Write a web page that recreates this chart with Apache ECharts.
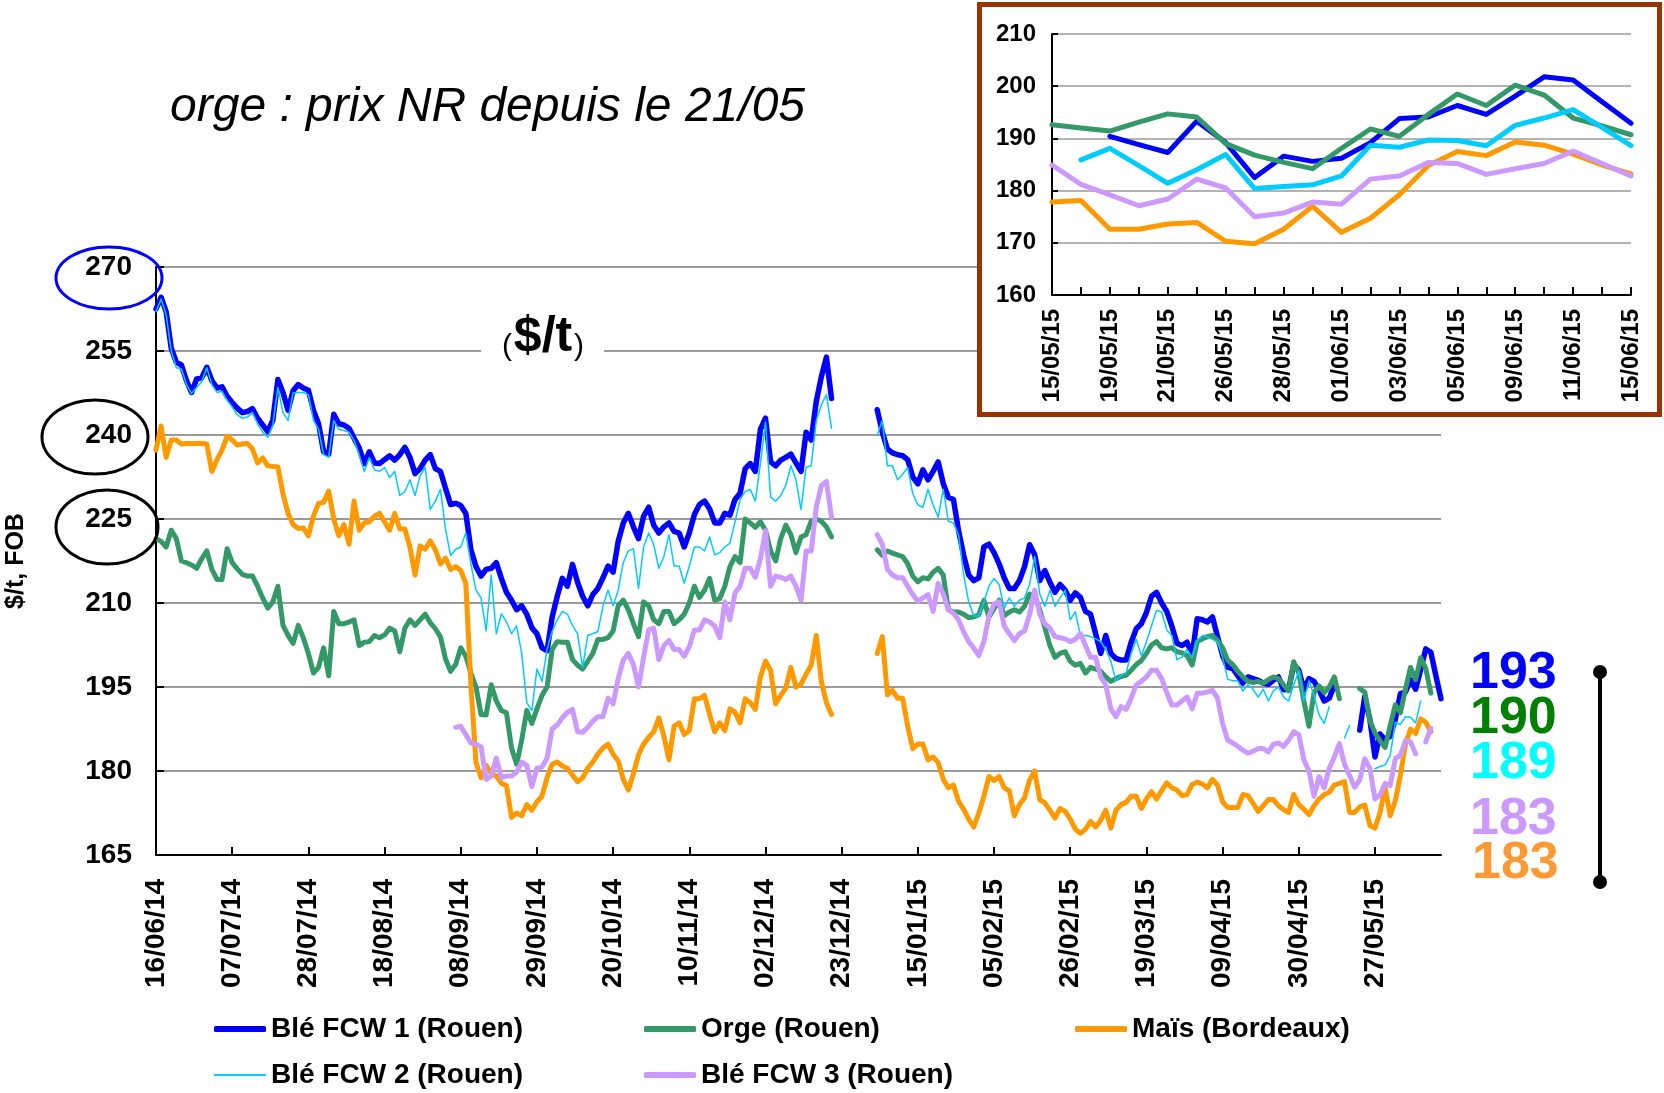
<!DOCTYPE html>
<html><head><meta charset="utf-8">
<script src="https://cdn.jsdelivr.net/npm/echarts@6/dist/echarts.min.js"></script>
<style>
html,body{margin:0;padding:0;background:#fff;}
#main{position:absolute;left:0;top:0;width:1664px;height:1093px;}
#inset{position:absolute;left:977px;top:2px;width:685px;height:415px;box-sizing:border-box;border:5px solid #993300;background:#fff;}
</style></head><body>
<div id="main"></div><div id="inset"></div>
<script>
// ---- main chart data (one value per trading day from 16/06/14) ----
const tickLabels = ['16/06/14','07/07/14','28/07/14','18/08/14','08/09/14','29/09/14','20/10/14','10/11/14','02/12/14','23/12/14','15/01/15','05/02/15','26/02/15','19/03/15','09/04/15','30/04/15','27/05/15'];

const ble1 = [
262.5,264.6,262.0,255.5,253.0,252.5,249.7,247.6,250.0,250.2,
252.1,249.7,248.4,248.6,246.9,245.8,244.8,244.0,244.2,244.7,
243.0,241.8,240.6,242.6,249.9,247.6,244.4,247.9,249.0,248.4,
248.0,244.4,242.0,237.0,236.6,243.7,242.0,241.8,241.2,239.4,
237.7,234.9,237.0,235.0,234.9,235.6,236.3,235.5,236.5,237.8,
236.0,233.1,234.0,235.5,236.5,234.0,233.5,230.5,227.6,227.8,
227.4,226.0,219.5,216.5,214.8,216.0,216.2,217.2,214.4,211.9,
210.5,208.8,209.5,208.0,205.6,204.5,202.0,201.5,207.5,211.2,
214.4,213.0,216.9,213.7,211.2,209.5,211.5,212.6,214.5,216.6,
215.5,221.0,224.3,226.0,223.6,221.5,225.5,227.1,223.9,222.5,
223.6,224.3,222.8,222.5,220.0,222.5,225.8,227.6,228.2,226.8,
224.3,224.3,226.0,225.7,228.5,229.6,234.0,234.9,233.5,241.0,
243.0,235.2,234.5,235.5,236.0,236.6,235.0,233.5,240.5,239.1,
246.0,250.4,253.9,246.5,null,null,null,null,null,null,
null,null,244.5,240.5,237.5,236.8,236.5,236.3,235.6,232.5,
231.3,233.8,232.0,233.5,235.2,231.3,228.9,228.5,223.0,218.6,
215.0,214.0,214.5,220.0,220.5,219.0,217.0,214.5,212.6,212.6,
214.0,216.5,220.4,218.6,214.0,215.8,213.7,211.9,213.3,212.3,
210.5,211.8,211.0,208.5,208.0,204.5,201.0,204.2,201.0,200.1,
199.8,199.8,203.0,205.4,206.3,208.3,211.2,211.9,210.0,208.5,
205.9,202.8,202.4,203.0,200.8,207.2,207.0,206.6,207.5,204.0,
200.6,198.5,198.3,197.0,195.7,196.8,196.5,196.2,195.7,195.5,
196.2,196.8,194.5,194.6,199.0,198.0,194.5,196.5,196.0,194.5,
192.5,193.0,195.4,null,null,null,null,187.3,193.3,189.2,
182.5,186.6,185.6,186.2,189.2,193.8,194.1,196.3,194.6,198.1,
201.8,201.2,197.0,192.9];

const orge = [
221.5,221.0,220.0,223.0,221.5,217.5,217.2,216.8,216.2,217.9,
219.3,216.0,214.2,214.2,219.7,217.2,216.1,215.1,214.8,214.8,
213.0,210.9,209.1,210.2,213.0,206.0,204.2,202.8,206.0,203.8,
201.0,197.5,198.5,202.0,197.0,208.5,206.3,206.3,206.6,207.0,
202.4,203.0,203.1,204.2,203.8,204.3,205.5,205.0,201.3,205.5,
207.0,206.0,207.0,208.0,206.5,205.4,204.0,200.0,197.8,199.0,
202.0,200.5,197.5,195.0,190.1,190.0,195.4,192.5,190.8,190.4,
184.1,181.2,185.5,190.8,188.5,191.1,193.5,195.0,201.7,203.1,
203.0,203.0,199.9,198.9,198.2,199.6,201.0,203.5,203.5,203.8,
205.0,209.5,210.5,208.8,206.3,204.0,210.2,209.5,207.0,206.3,
208.5,208.5,206.3,207.0,208.0,210.0,213.0,211.0,212.3,214.4,
210.5,210.8,213.0,216.5,218.3,217.2,225.0,224.3,223.5,224.5,
223.0,219.3,217.5,221.5,223.9,222.2,219.0,221.8,222.2,224.6,
225.0,224.6,223.6,221.8,null,null,null,null,null,null,
null,null,219.5,218.5,219.3,218.9,218.6,218.3,217.0,214.8,
213.8,214.5,214.3,215.5,216.2,215.0,208.8,208.4,208.4,208.0,
207.4,207.5,207.9,210.5,207.5,209.0,210.5,207.7,208.4,208.8,
208.4,209.4,211.6,211.2,208.8,205.6,202.4,200.3,201.0,201.3,
199.6,198.9,199.2,197.5,198.5,198.2,197.8,196.8,196.0,196.5,
196.9,197.1,198.0,199.0,199.7,201.0,202.5,203.1,202.0,201.8,
202.0,201.3,201.1,200.6,198.9,203.1,203.6,204.0,204.2,203.3,
202.0,199.8,199.0,197.8,196.8,196.0,195.8,196.0,195.7,196.3,
196.8,196.5,195.4,194.3,199.5,197.5,192.5,188.0,194.0,195.2,
194.0,195.0,196.8,192.9,null,null,null,194.7,194.1,189.0,
186.8,185.4,184.2,188.1,191.8,190.4,194.6,198.5,196.3,200.2,
198.3,193.9,null,null];

const mais = [
237.3,241.6,236.0,239.1,239.1,238.4,238.5,238.5,238.5,238.5,
238.4,233.5,235.6,237.3,239.8,239.1,238.2,238.4,238.5,237.5,
235.0,235.9,234.5,234.4,234.3,229.5,226.0,224.0,223.3,223.4,
222.0,225.5,227.8,228.0,230.0,225.0,222.0,224.0,220.5,228.2,
223.0,224.3,224.5,225.5,226.0,224.5,223.0,226.0,223.2,223.2,
220.0,215.0,220.2,219.6,221.1,219.5,217.0,218.0,216.0,216.5,
215.8,213.5,195.4,181.5,178.8,181.0,179.5,179.1,177.8,177.4,
171.7,172.5,172.0,174.0,173.0,174.5,175.5,178.8,181.2,181.6,
180.9,180.5,179.3,178.1,178.8,180.5,181.6,183.0,184.1,184.8,
183.0,181.8,178.5,176.6,179.5,182.9,184.8,186.0,187.0,189.5,
186.2,182.0,188.0,188.6,186.5,187.2,192.9,192.9,193.5,190.1,
187.0,188.6,187.2,191.1,190.5,188.6,192.9,192.2,191.0,196.8,
199.6,198.0,192.0,193.5,194.8,198.5,195.0,195.5,197.3,198.9,
204.2,196.0,192.2,190.1,null,null,null,null,null,null,
null,null,201.0,204.0,193.6,194.4,193.0,193.0,188.0,184.0,
184.8,184.8,182.0,182.5,181.5,178.5,177.0,177.5,174.6,173.2,
171.4,170.0,172.5,175.5,179.0,178.3,179.0,177.0,176.5,172.0,
174.0,175.2,178.4,180.0,174.9,174.3,173.0,171.6,173.3,172.8,
171.4,169.6,168.9,169.6,171.0,170.0,171.2,173.0,169.8,173.0,
174.0,174.4,175.5,175.5,173.3,175.0,176.3,175.0,176.5,177.9,
177.0,176.6,175.6,175.8,177.6,178.0,177.7,177.0,178.5,177.5,
174.5,173.5,173.5,173.5,175.8,175.6,174.2,172.8,173.8,174.9,
174.9,173.8,173.1,172.6,175.8,174.0,173.2,172.2,173.8,175.0,
175.8,176.2,177.5,177.8,178.1,172.6,172.6,173.6,173.9,170.3,
169.8,172.6,177.0,172.0,174.7,179.2,184.8,187.5,186.7,189.3,
188.7,187.0,null,null];

const ble2 = [
262.0,264.3,261.5,255.0,252.0,251.8,249.0,247.4,248.5,249.5,
252.0,249.0,247.6,247.8,246.2,245.0,243.6,243.0,243.2,244.0,
242.0,240.5,239.6,241.8,248.5,244.0,242.6,247.5,247.6,247.6,
247.2,242.6,241.0,236.5,236.0,242.6,241.0,240.8,240.5,239.0,
236.5,233.5,236.0,233.8,233.5,234.2,232.4,233.5,229.2,229.9,
232.0,229.2,232.7,234.2,226.7,228.2,230.3,223.2,218.5,219.6,
220.0,222.5,217.0,212.3,210.9,205.0,215.0,204.5,208.1,206.6,
204.5,205.9,201.0,192.2,190.8,198.2,196.0,201.7,204.9,207.0,
208.5,208.0,206.0,204.5,198.5,204.2,204.5,204.9,209.4,212.3,
209.5,212.3,217.2,219.3,219.7,212.6,220.0,222.5,220.4,216.2,
218.3,222.2,216.6,216.6,213.5,216.6,220.0,220.0,219.3,221.8,
218.6,219.0,220.0,220.7,224.5,228.5,229.9,230.3,228.2,234.9,
242.3,228.9,228.2,229.2,231.0,234.5,232.0,226.7,234.3,234.5,
242.6,245.4,247.2,241.2,null,null,null,null,null,null,
null,null,240.0,242.6,234.5,234.5,232.0,233.0,234.2,229.5,
227.5,227.1,230.3,227.5,225.3,230.3,224.6,224.3,222.2,215.1,
210.2,207.7,207.7,210.2,213.0,214.4,213.3,209.1,210.9,209.4,
210.5,210.9,213.3,218.3,211.6,209.4,212.3,209.4,210.9,212.3,
207.0,208.4,204.2,204.2,204.0,203.6,203.1,201.7,199.6,196.1,
197.1,197.5,201.0,203.5,200.6,203.1,205.9,208.7,208.4,205.2,
204.2,199.9,200.3,201.7,200.3,203.1,204.2,204.0,203.5,203.1,
200.3,196.4,196.1,196.1,194.3,195.4,194.6,193.2,194.6,192.5,
194.3,195.0,193.2,192.5,195.4,197.8,192.5,196.1,193.5,190.0,
188.5,191.5,null,null,185.9,188.1,null,null,null,null,
180.4,180.8,181.1,182.8,188.7,188.3,189.7,189.6,188.6,192.5,
null,null,null,null];

const ble3 = [
null,null,null,null,null,null,null,null,null,null,
null,null,null,null,null,null,null,null,null,null,
null,null,null,null,null,null,null,null,null,null,
null,null,null,null,null,null,null,null,null,null,
null,null,null,null,null,null,null,null,null,null,
null,null,null,null,null,null,null,null,null,187.8,
188.0,186.5,185.0,184.8,184.3,178.5,179.1,182.3,178.8,179.1,
179.1,179.8,181.6,181.0,177.2,180.5,180.7,182.3,187.5,188.2,
189.5,190.5,191.0,187.0,186.9,187.8,188.9,189.7,189.7,193.0,
192.0,196.5,199.8,201.0,199.0,195.0,200.3,205.2,205.5,199.9,
202.4,203.3,201.7,201.7,200.5,202.2,205.2,205.2,207.0,206.6,
205.9,203.8,210.2,207.0,211.8,213.0,216.2,216.2,214.6,217.9,
222.9,213.0,214.8,214.6,214.2,214.8,213.0,210.5,219.3,219.3,
227.1,231.0,231.7,225.3,null,null,null,null,null,null,
null,null,222.2,220.5,216.0,215.0,214.5,214.5,213.0,211.5,
210.3,210.9,211.5,208.5,213.5,211.6,208.8,208.2,207.0,204.9,
203.1,202.0,200.6,203.1,207.7,209.8,210.2,205.9,204.5,203.3,
204.5,205.0,208.0,212.3,208.0,206.3,205.5,204.0,203.8,203.6,
203.1,203.5,204.5,202.4,200.3,200.3,196.8,195.4,191.1,189.7,
191.5,191.0,193.0,195.4,196.0,196.8,198.0,198.0,196.5,194.0,
191.8,191.8,192.5,193.2,191.1,193.9,193.9,194.1,194.4,193.0,
188.5,185.5,185.0,184.4,183.7,183.2,183.5,184.0,184.0,183.4,
184.8,185.0,184.4,185.5,187.0,186.5,182.0,180.0,175.5,179.0,
177.0,180.5,182.5,184.9,181.2,179.2,177.1,178.4,182.2,180.5,
175.0,175.7,177.8,177.4,182.2,182.8,185.4,185.2,183.1,null,
185.2,187.6,null,null];

// ---- inset data (15/05/15 - 15/06/15) ----
const insetDates = ['15/05/15','18/05/15','19/05/15','20/05/15','21/05/15','22/05/15','26/05/15','27/05/15','28/05/15','29/05/15','01/06/15','02/06/15','03/06/15','04/06/15','05/06/15','08/06/15','09/06/15','10/06/15','11/06/15','12/06/15','15/06/15'];
const insetBle1 = [null,null,190.4,188.8,187.3,193.3,189.2,182.5,186.6,185.6,186.2,189.2,193.8,194.1,196.3,194.6,198.1,201.8,201.2,197.0,192.9];
const insetOrge = [192.6,192.0,191.4,193.1,194.7,194.1,189.0,186.8,185.4,184.2,188.1,191.8,190.4,194.6,198.5,196.3,200.2,198.3,193.9,192.4,190.7];
const insetMais = [177.8,178.1,172.6,172.6,173.6,173.9,170.3,169.8,172.6,177.0,172.0,174.7,179.2,184.8,187.5,186.7,189.3,188.7,187.0,184.9,183.2];
const insetBle2 = [null,185.9,188.1,184.8,181.4,184.0,186.9,180.4,180.8,181.1,182.8,188.7,188.3,189.7,189.6,188.6,192.5,193.9,195.5,192.1,188.6];
const insetBle3 = [184.9,181.2,179.2,177.1,178.4,182.2,180.5,175.0,175.7,177.8,177.4,182.2,182.8,185.4,185.2,183.1,184.2,185.2,187.6,185.2,182.8];

const lastLabels = ['193','190','189','183','183'];
const seriesNames = ['Blé FCW 1 (Rouen)','Orge (Rouen)','Maïs (Bordeaux)','Blé FCW 2 (Rouen)','Blé FCW 3 (Rouen)'];
const colors = ['#0000FF','#339966','#FF9900','#00CCFF','#CC99FF'];
const labelColors = ['#0000FF','#008000','#00FFFF','#CC99FF','#FF9933'];

const FONT = 'Liberation Sans, Arial, Helvetica, sans-serif';
const cats = ble1.map((_, i) => String(i));

function mk(name, data, color, width){
  return {name, type:'line', data, symbol:'none', showSymbol:false, connectNulls:false,
    lineStyle:{color, width, join:'round', cap:'round'}, itemStyle:{color}, emphasis:{disabled:true}};
}

const legendBase = {orient:'horizontal', itemWidth:52, icon:'roundRect', selectedMode:false,
  textStyle:{fontFamily:FONT, fontSize:28, fontWeight:'bold', color:'#000'}};

const main = echarts.init(document.getElementById('main'), null, {renderer:'canvas'});
main.setOption({
  animation:false,
  backgroundColor:'#fff',
  grid:{left:156, right:223, top:267, bottom:238, outerBoundsMode:'none'},
  legend:[
    Object.assign({}, legendBase, {data:[seriesNames[0]], left:209, top:1010, itemHeight:6}),
    Object.assign({}, legendBase, {data:[seriesNames[1]], left:639, top:1010, itemHeight:6}),
    Object.assign({}, legendBase, {data:[seriesNames[2]], left:1070, top:1010, itemHeight:6}),
    Object.assign({}, legendBase, {data:[seriesNames[3]], left:209, top:1056, itemHeight:2}),
    Object.assign({}, legendBase, {data:[seriesNames[4]], left:639, top:1056, itemHeight:6})
  ],
  xAxis:{type:'category', data:cats, boundaryGap:false,
    axisLine:{lineStyle:{color:'#000', width:2}},
    axisTick:{inside:true, interval:14, length:8, lineStyle:{color:'#000', width:2}},
    axisLabel:{interval:14, rotate:90, margin:24, fontFamily:FONT, fontSize:28, fontWeight:'bold', color:'#000',
      formatter:(v, i) => (i % 15 === 0 && tickLabels[i / 15]) ? tickLabels[i / 15] : ''},
    splitLine:{show:false}},
  yAxis:{type:'value', min:165, max:270, interval:15,
    name:'$/t, FOB', nameLocation:'middle', nameGap:127,
    nameTextStyle:{fontFamily:FONT, fontSize:25, fontWeight:'bold', color:'#000'},
    axisLine:{show:true, lineStyle:{color:'#000', width:2}},
    axisTick:{show:true, inside:true, length:8, lineStyle:{color:'#000', width:2}},
    axisLabel:{margin:24, fontFamily:FONT, fontSize:28, fontWeight:'bold', color:'#000'},
    splitLine:{show:true, lineStyle:{color:'#9a9a9a', width:2}}},
  series:[
    mk(seriesNames[0], ble1, colors[0], 5.5),
    mk(seriesNames[1], orge, colors[1], 5),
    mk(seriesNames[2], mais, colors[2], 5),
    mk(seriesNames[3], ble2, colors[3], 1.5),
    mk(seriesNames[4], ble3, colors[4], 5)
  ],
  graphic:[
    {type:'text', x:170, y:108, z:100, style:{text:'orge : prix NR depuis le 21/05', fill:'#000',
      font:'italic 48px ' + FONT, textAlign:'left', textVerticalAlign:'middle'}},
    {type:'rect', z:100, shape:{x:481, y:341, width:123, height:20}, style:{fill:'#fff'}},
    {type:'text', x:512, y:347, z:101, style:{text:'(', fill:'#000', font:'30px ' + FONT, textAlign:'right', textVerticalAlign:'middle'}},
    {type:'text', x:543, y:337, z:101, style:{text:'$/t', fill:'#000', font:'bold 50px ' + FONT, textAlign:'center', textVerticalAlign:'middle'}},
    {type:'text', x:574, y:347, z:101, style:{text:')', fill:'#000', font:'30px ' + FONT, textAlign:'left', textVerticalAlign:'middle'}},
    {type:'ellipse', z:100, shape:{cx:109, cy:278, rx:53, ry:31}, style:{fill:'none', stroke:'#0000FF', lineWidth:3}},
    {type:'ellipse', z:100, shape:{cx:95, cy:437, rx:53, ry:37}, style:{fill:'none', stroke:'#000', lineWidth:3}},
    {type:'ellipse', z:100, shape:{cx:107, cy:527, rx:51, ry:37}, style:{fill:'none', stroke:'#000', lineWidth:3}},
    {type:'text', x:1470, y:674, z:100, style:{text:lastLabels[0], fill:labelColors[0], font:'bold 52px ' + FONT, textVerticalAlign:'middle'}},
    {type:'text', x:1470, y:719, z:100, style:{text:lastLabels[1], fill:labelColors[1], font:'bold 52px ' + FONT, textVerticalAlign:'middle'}},
    {type:'text', x:1470, y:764, z:100, style:{text:lastLabels[2], fill:labelColors[2], font:'bold 52px ' + FONT, textVerticalAlign:'middle'}},
    {type:'text', x:1470, y:820, z:100, style:{text:lastLabels[3], fill:labelColors[3], font:'bold 52px ' + FONT, textVerticalAlign:'middle'}},
    {type:'text', x:1472, y:864, z:100, style:{text:lastLabels[4], fill:labelColors[4], font:'bold 52px ' + FONT, textVerticalAlign:'middle'}},
    {type:'line', z:100, shape:{x1:1600, y1:672, x2:1600, y2:882}, style:{stroke:'#000', lineWidth:4}},
    {type:'circle', z:100, shape:{cx:1600, cy:672, r:7}, style:{fill:'#000'}},
    {type:'circle', z:100, shape:{cx:1600, cy:882, r:7}, style:{fill:'#000'}}
  ]
});

const inset = echarts.init(document.getElementById('inset'), null, {renderer:'canvas'});
inset.setOption({
  animation:false,
  backgroundColor:'#fff',
  grid:{left:70, right:26, top:27, bottom:117, outerBoundsMode:'none'},
  xAxis:{type:'category', data:insetDates, boundaryGap:false,
    axisLine:{lineStyle:{color:'#000', width:2}},
    axisTick:{inside:true, interval:0, length:8, lineStyle:{color:'#000', width:2}},
    axisLabel:{interval:1, rotate:90, margin:14, fontFamily:FONT, fontSize:24, fontWeight:'bold', color:'#000'},
    splitLine:{show:false}},
  yAxis:{type:'value', min:160, max:210, interval:10,
    axisLine:{show:true, lineStyle:{color:'#000', width:2}},
    axisTick:{show:true, inside:true, length:6, lineStyle:{color:'#000', width:2}},
    axisLabel:{margin:16, fontFamily:FONT, fontSize:24, fontWeight:'bold', color:'#000'},
    splitLine:{show:true, lineStyle:{color:'#9a9a9a', width:1.5}}},
  series:[
    mk(seriesNames[0], insetBle1, colors[0], 5),
    mk(seriesNames[1], insetOrge, colors[1], 5),
    mk(seriesNames[2], insetMais, colors[2], 5),
    mk(seriesNames[3], insetBle2, colors[3], 5),
    mk(seriesNames[4], insetBle3, colors[4], 5)
  ]
});
</script></body></html>
